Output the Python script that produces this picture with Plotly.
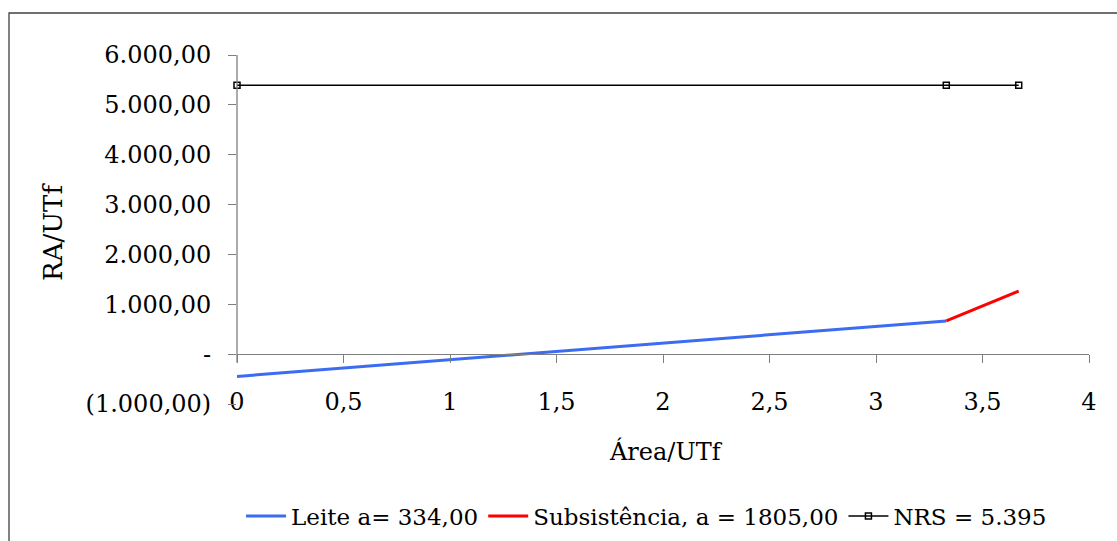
import plotly.graph_objects as go

# Series values (area per UTf vs. RA per UTf)
leite_x = [0, 3.33]
leite_y = [-446, 666]
subs_x = [3.33, 3.67]
subs_y = [666, 1265]
nrs_x = [0, 3.33, 3.67]
nrs_y = [5395, 5395, 5395]

y_tickvals = [-1000, 0, 1000, 2000, 3000, 4000, 5000, 6000]
y_ticktext = ["(1.000,00)", "-", "1.000,00", "2.000,00", "3.000,00",
              "4.000,00", "5.000,00", "6.000,00"]
x_tickvals = [0, 0.5, 1, 1.5, 2, 2.5, 3, 3.5, 4]
x_ticktext = ["0", "0,5", "1", "1,5", "2", "2,5", "3", "3,5", "4"]

FONT = "DejaVu Serif"
FS = 24
AXIS_GRAY = "#7f7f7f"

fig = go.Figure()
fig.add_trace(go.Scatter(x=leite_x, y=leite_y, mode="lines",
                         name="Leite a= 334,00",
                         line=dict(color="#3b6cf2", width=3), cliponaxis=False))
fig.add_trace(go.Scatter(x=subs_x, y=subs_y, mode="lines",
                         name="Subsistência, a = 1805,00",
                         line=dict(color="#ff0000", width=3), cliponaxis=False))
fig.add_trace(go.Scatter(x=nrs_x, y=nrs_y, mode="lines+markers",
                         name="NRS = 5.395",
                         line=dict(color="black", width=1.5),
                         marker=dict(symbol="square-open", size=6, color="black",
                                     line=dict(width=1.5, color="black")),
                         cliponaxis=False))

fig.update_layout(
    width=1117, height=541,
    margin=dict(l=237, r=28, t=55, b=137, autoexpand=False),
    paper_bgcolor="white", plot_bgcolor="white",
    font=dict(family=FONT, size=FS, color="black"),
    showlegend=True,
    legend=dict(orientation="h", xref="container", yref="container",
                x=0.5788, xanchor="center", y=0.046, yanchor="middle",
                font=dict(family=FONT, size=23, color="black"),
                itemwidth=40, tracegroupgap=0, bgcolor="rgba(0,0,0,0)"),
    xaxis=dict(range=[0, 4], tickvals=x_tickvals, ticktext=x_ticktext,
               anchor="free", position=1 / 7, automargin=False,
               showline=True, linecolor=AXIS_GRAY, linewidth=1.3,
               ticks="outside", ticklen=8, tickcolor=AXIS_GRAY, tickwidth=1.3,
               ticklabelstandoff=18,
               showgrid=False, zeroline=False,
               tickfont=dict(family=FONT, size=FS, color="black")),
    yaxis=dict(range=[-1000, 6000], tickvals=y_tickvals, ticktext=y_ticktext,
               showline=False, automargin=False,
               ticks="outside", ticklen=8, tickcolor=AXIS_GRAY, tickwidth=1.3,
               ticklabelstandoff=12,
               showgrid=False, zeroline=False,
               tickfont=dict(family=FONT, size=FS, color="black")),
    annotations=[
        dict(text="RA/UTf", x=-0.216, y=0.493, xref="paper", yref="paper",
             textangle=-90, showarrow=False, xanchor="center", yanchor="middle",
             font=dict(family=FONT, size=26, color="black")),
        dict(text="Área/UTf", x=0.5035, y=-0.1375, xref="paper", yref="paper",
             showarrow=False, xanchor="center", yanchor="middle",
             font=dict(family=FONT, size=FS, color="black")),
    ],
    shapes=[
        # vertical axis line, from the top of the scale down just past zero
        dict(type="line", xref="paper", yref="y", x0=0, x1=0, y0=-170, y1=6000,
             line=dict(color=AXIS_GRAY, width=1.3), layer="above"),
        # chart frame
        dict(type="rect", xref="paper", yref="paper", x0=-0.2676, x1=1.05,
             y0=-0.6, y1=1.1203, line=dict(color="#404040", width=1.3),
             fillcolor="rgba(0,0,0,0)", layer="below"),
    ],
)

fig.write_html("out.html")
